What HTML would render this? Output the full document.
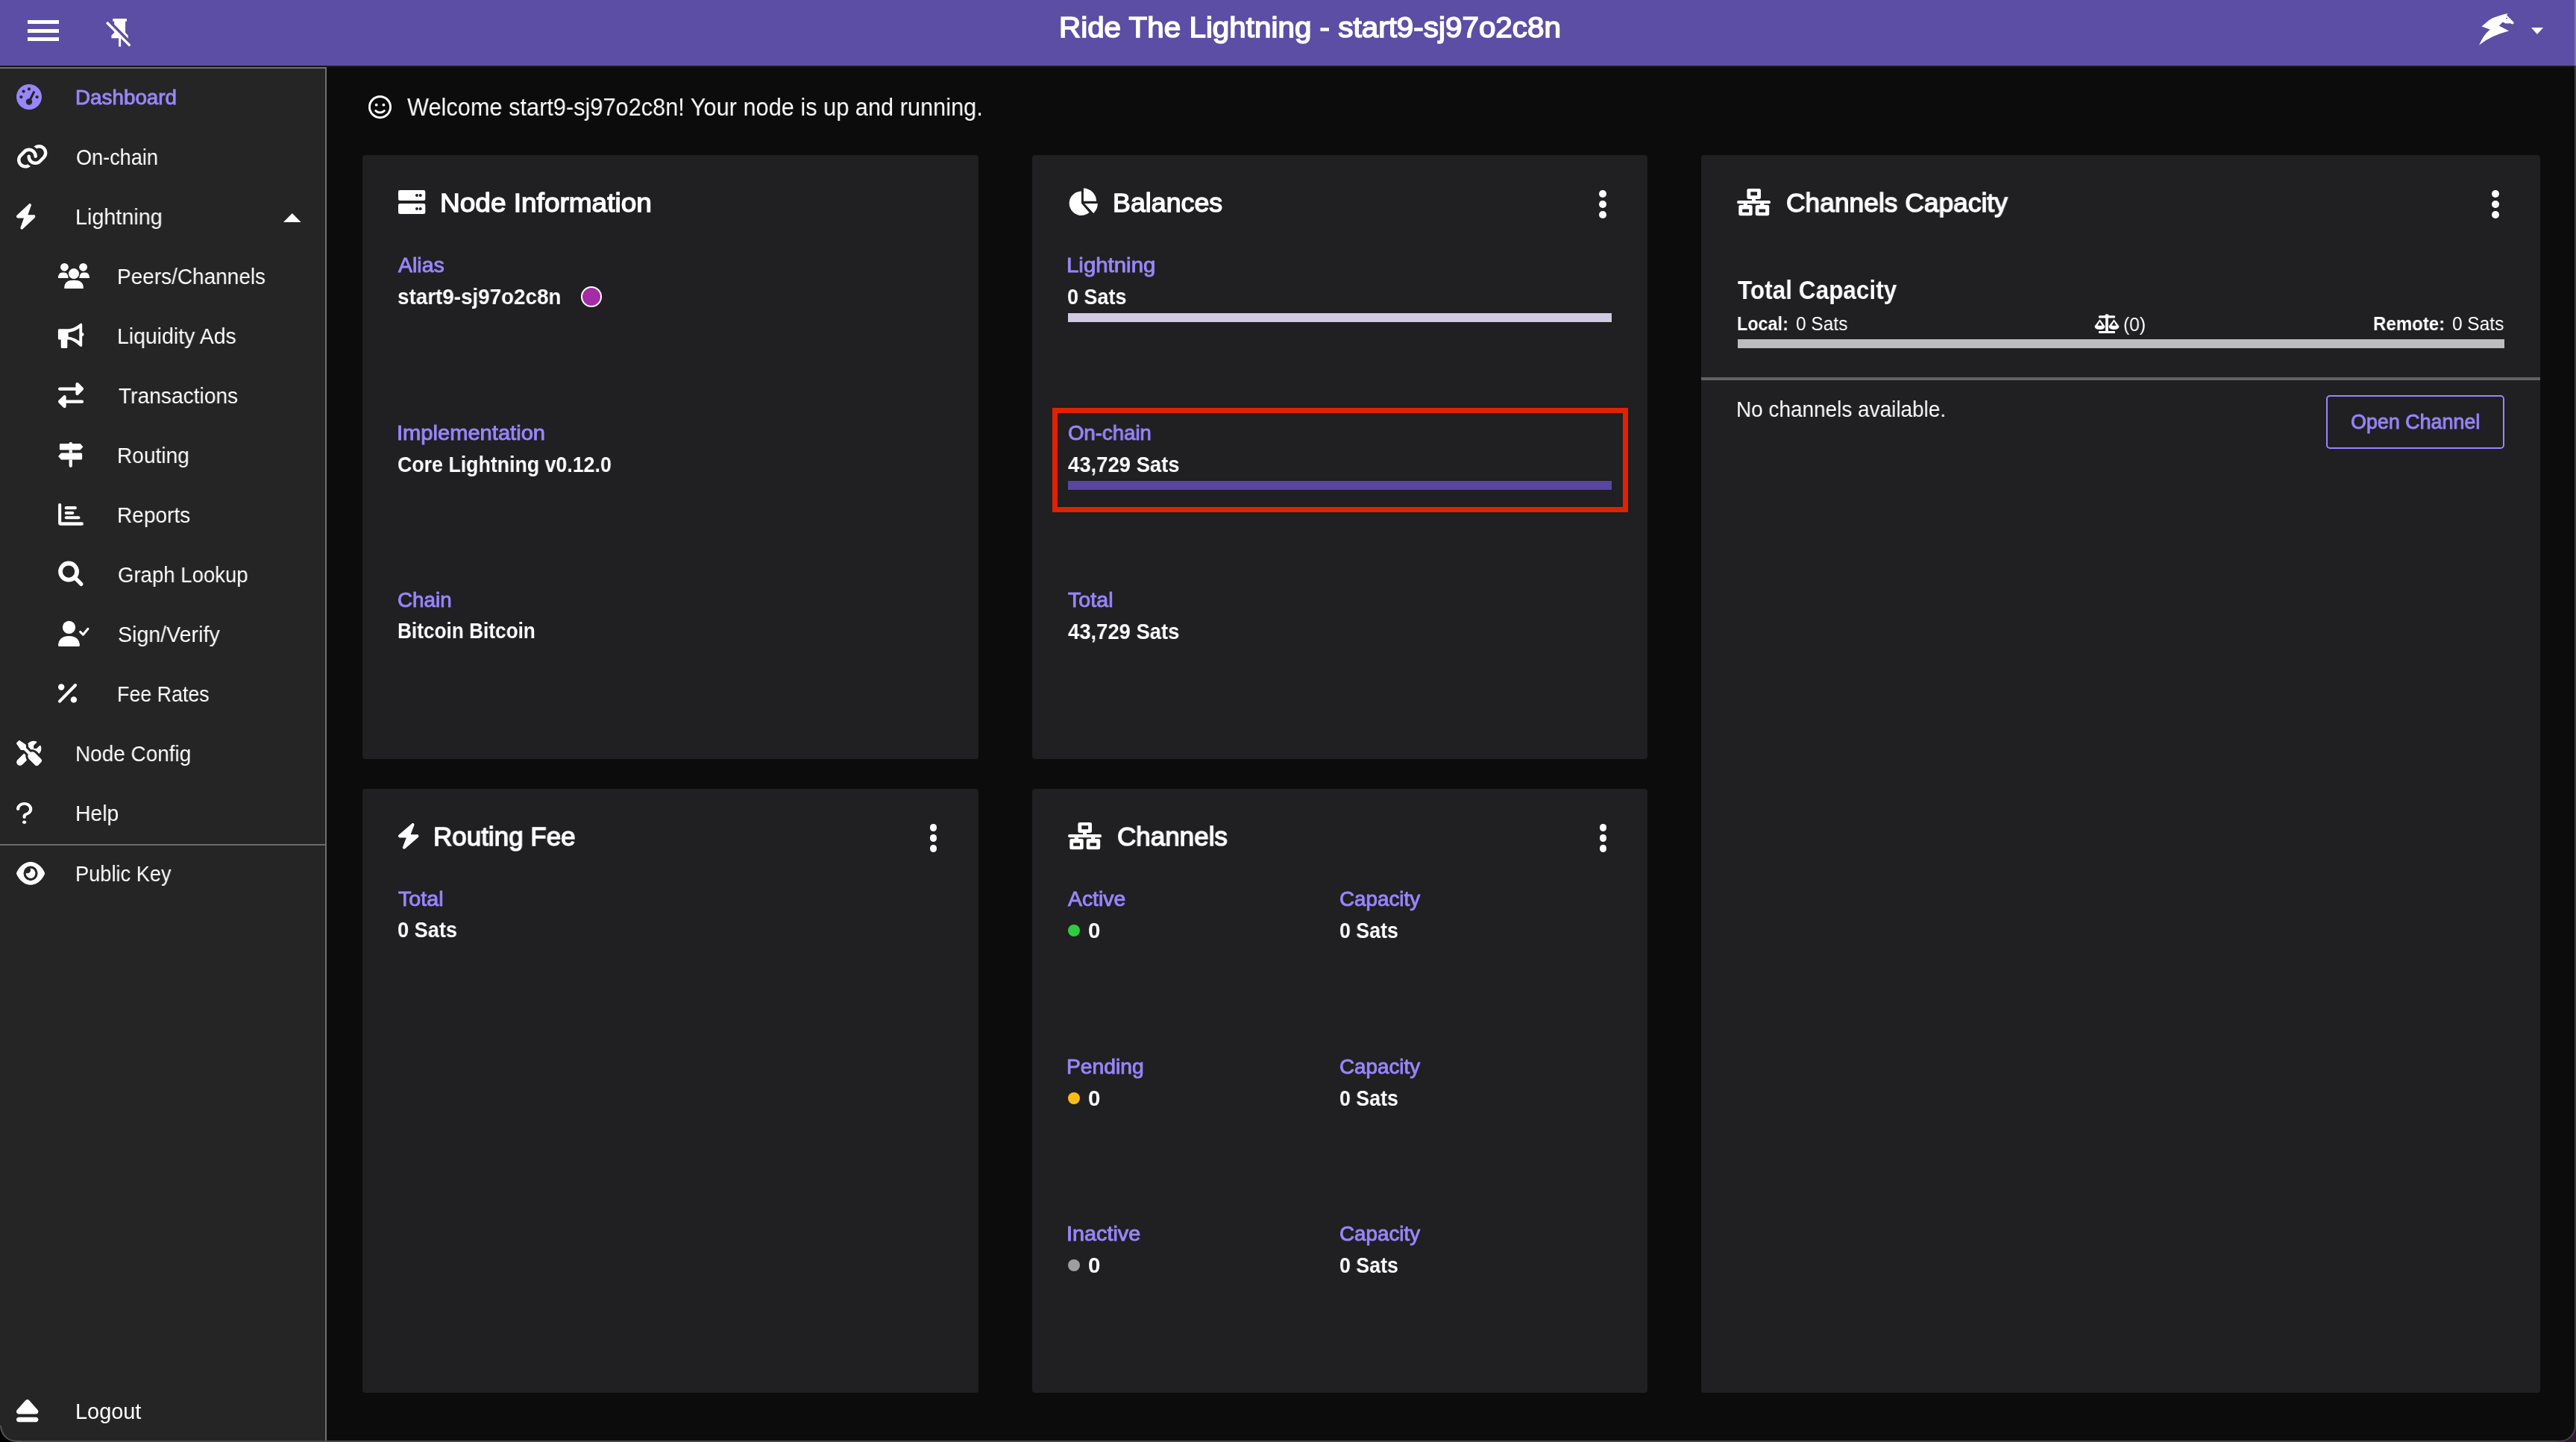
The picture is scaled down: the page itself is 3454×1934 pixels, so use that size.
<!DOCTYPE html>
<html><head><meta charset="utf-8"><title>RTL Dashboard</title>
<style>
*{margin:0;padding:0;box-sizing:border-box}
html,body{width:3454px;height:1934px;overflow:hidden;background:#0c0c0c;font-family:"Liberation Sans",Arial,sans-serif;}
.t{position:absolute;white-space:nowrap;transform-origin:0 0;font-kerning:normal;will-change:transform}
.i{position:absolute;overflow:visible}
.b{position:absolute}
.dot{position:absolute;width:9.8px;height:9.8px;border-radius:50%;background:#fff}
@media (min-width:1700px) and (max-width:1760px){html{zoom:.5}}
</style></head><body>
<div class="b" style="left:0;top:0;width:3454px;height:88px;background:#5c4ea5"></div>
<div class="b" style="left:0;top:88px;width:3454px;height:2px;background:#1d1d1b"></div>
<!-- hamburger -->
<div class="b" style="left:37px;top:27px;width:42px;height:5.3px;background:#fff"></div>
<div class="b" style="left:37px;top:38.5px;width:42px;height:5.3px;background:#fff"></div>
<div class="b" style="left:37px;top:50px;width:42px;height:5.3px;background:#fff"></div>
<!-- sidebar -->
<div class="b" style="left:0;top:88px;width:436px;height:2px;background:#171715"></div>
<div class="b" style="left:0;top:90px;width:438px;height:1844px;background:#252525;border-top:2px solid #6f6f6f;border-right:2px solid #6f6f6f"></div>
<div class="b" style="left:0;top:1131.5px;width:436px;height:2px;background:#6b6b6b"></div>
<!-- chevron up -->
<svg class="i" style="left:380px;top:286px;width:23.6px;height:12px" viewBox="0 0 10 5" preserveAspectRatio="none"><path fill="#fff" d="M0 5 5 0 10 5z"/></svg>
<!-- cards -->
<div class="b" style="left:486px;top:208px;width:826px;height:810px;background:#201f21;border-radius:4px"></div>
<div class="b" style="left:1384px;top:208px;width:825px;height:810px;background:#201f21;border-radius:4px"></div>
<div class="b" style="left:2281px;top:208px;width:1125px;height:1660px;background:#201f21;border-radius:4px"></div>
<div class="b" style="left:486px;top:1058px;width:826px;height:810px;background:#201f21;border-radius:4px"></div>
<div class="b" style="left:1384px;top:1058px;width:825px;height:810px;background:#201f21;border-radius:4px"></div>
<!-- balances bars -->
<div class="b" style="left:1432px;top:420px;width:729px;height:12px;background:#d0cae4"></div>
<div class="b" style="left:1432px;top:645px;width:729px;height:12px;background:#5846a0"></div>
<div class="b" style="left:1411px;top:546.5px;width:772.3px;height:140.3px;border:7.5px solid #e02200"></div>
<!-- capacity -->
<div class="b" style="left:2329.5px;top:455px;width:1028px;height:12px;background:#bdbdbd"></div>
<div class="b" style="left:2281px;top:506px;width:1125px;height:4px;background:#626262"></div>
<div class="b" style="left:3119px;top:530px;width:238.8px;height:71.7px;border:2.4px solid #9886fd;border-radius:5px"></div>
<!-- alias dot -->
<div class="b" style="left:778.5px;top:384px;width:28px;height:28px;border-radius:50%;background:#a52ca6;border:2px solid #fff"></div>
<!-- status dots -->
<div class="b" style="left:1432px;top:1240px;width:16px;height:16px;border-radius:50%;background:#2ecc40"></div>
<div class="b" style="left:1432px;top:1464.9px;width:16px;height:16px;border-radius:50%;background:#fbbc1a"></div>
<div class="b" style="left:1432px;top:1689px;width:16px;height:16px;border-radius:50%;background:#9e9e9e"></div>
<!-- header right: dropdown -->
<svg class="i" style="left:3394px;top:37px;width:16px;height:9px" viewBox="0 0 10 5" preserveAspectRatio="none"><path fill="#fff" d="M0 0 5 5 10 0z"/></svg>
<svg class="i" style="left:22px;top:112.7px;width:34px;height:34.1px;" viewBox="0 0 512 512" preserveAspectRatio="none"><path fill="#9886fd" d="M0 256a256 256 0 1 1 512 0 256 256 0 1 1-512 0M288 96a32 32 0 1 0-64 0 32 32 0 1 0 64 0m-32 320c35.3 0 64-28.7 64-64 0-16.2-6-31.1-16-42.3l69.5-138.9c5.9-11.9 1.1-26.3-10.7-32.2s-26.3-1.1-32.2 10.7l-69.5 138.9c-1.7-.1-3.4-.2-5.1-.2-35.3 0-64 28.7-64 64s28.7 64 64 64m-80-272a32 32 0 1 0-64 0 32 32 0 1 0 64 0M96 288a32 32 0 1 0 0-64 32 32 0 1 0 0 64m352-32a32 32 0 1 0-64 0 32 32 0 1 0 64 0"/></svg><svg class="i" style="left:22.7px;top:194.3px;width:40.4px;height:31.6px;" viewBox="0 32 576 448.2" preserveAspectRatio="none"><path fill="#fff" d="M419.5 96c-16.6 0-32.7 4.5-46.8 12.7-15.8-16-34.2-29.4-54.5-39.5 28.2-24 64.1-37.2 101.3-37.2C505.9 32 576 102 576 188.5c0 41.5-16.5 81.3-45.8 110.6l-71.1 71.1C429.8 399.5 390 416 348.5 416 262.1 416 192 346 192 259.5c0-1.5 0-3 .1-4.5.5-17.7 15.2-31.6 32.9-31.1s31.6 15.2 31.1 32.9v2.6c0 51.1 41.4 92.5 92.5 92.5 24.5 0 48-9.7 65.4-27.1l71.1-71.1c17.3-17.3 27.1-40.9 27.1-65.4 0-51.1-41.4-92.5-92.5-92.5zm-144.3 77.3c-1.9-.8-3.8-1.9-5.5-3.1-12.6-6.5-27-10.2-42.1-10.2-24.5 0-48 9.7-65.4 27.1l-71.1 71.1C73.8 275.5 64 299.1 64 323.6c0 51.1 41.4 92.5 92.5 92.5 16.5 0 32.6-4.4 46.7-12.6 15.8 16 34.2 29.4 54.6 39.5-28.2 23.9-64 37.2-101.3 37.2C70.1 480.2 0 410.2 0 323.7c0-41.5 16.5-81.3 45.8-110.6l71.1-71.1c29.3-29.3 69.1-45.8 110.6-45.8 86.6 0 156.5 70.6 156.5 156.9v3.9c-.4 17.7-15.1 31.6-32.8 31.2s-31.6-15.1-31.2-32.8v-2.3c0-33.7-18-63.3-44.8-79.6z"/></svg><svg class="i" style="left:22.2px;top:272.8px;width:25.3px;height:34.7px;" viewBox="-0.01 -16.02 448.02 544.03" preserveAspectRatio="none"><path fill="#fff" d="M338.8-9.9c11.9 8.6 16.3 24.2 10.9 37.8L271.3 224H416c13.5 0 25.5 8.4 30.1 21.1s.7 26.9-9.6 35.5l-288 240c-11.3 9.4-27.4 9.9-39.3 1.3s-16.3-24.2-10.9-37.8L176.7 288H32c-13.5 0-25.5-8.4-30.1-21.1s-.7-26.9 9.6-35.5l288-240c11.3-9.4 27.4-9.9 39.3-1.3"/></svg><svg class="i" style="left:70px;top:345px;width:60px;height:50px" viewBox="70 345 60 50"><path fill="#fff" d="M77.9 373.1C77.9 367.3 80.6 365.5 84.75 365.5C88.9 365.5 91.6 367.3 91.6 373.1Z"/><path fill="#fff" d="M106.3 373.1C106.3 367.3 109 365.5 113.15 365.5C117.3 365.5 120 367.3 120 373.1Z"/><circle cx="86.4" cy="358.3" r="5.4" fill="#fff"/><circle cx="111.6" cy="358.3" r="5.4" fill="#fff"/><circle cx="99" cy="367.1" r="8.4" fill="#252525"/><circle cx="99" cy="367.1" r="7" fill="#fff"/><path fill="#fff" d="M86.2 386.9C86.2 378.6 90.6 375.8 99 375.8C107.4 375.8 111.9 378.6 111.9 386.9Z"/></svg><svg class="i" style="left:70px;top:425px;width:50px;height:50px" viewBox="70 425 50 50"><path fill="#fff" d="M79.4 441.2H92C97 441 103 438 107.5 434Q108.5 433.2 109.5 433.8Q110.2 434.3 110.2 435.5V446.3A2.3 2.3 0 0 1 110.2 450.9V463Q110.2 464.4 109.3 464.9Q108.4 465.3 107.5 464.6C103 460.6 97.5 455.6 92 455.4H90.3V465.6Q90.3 467.1 88.8 467.1H83.2Q81.7 467.1 81.7 465.6V455.4H79.4Q77.9 455.4 77.9 453.9V442.7Q77.9 441.2 79.4 441.2Z"/><path fill="#252525" d="M91.6 445.9C96.5 445.5 101.5 443.5 106.3 440.2V457.5C101.5 454.2 96.5 452.2 91.6 451.8Z"/></svg><svg class="i" style="left:78.2px;top:512.7px;width:34.1px;height:34.2px;" viewBox="-0.07 -0.06 512.15 512.11" preserveAspectRatio="none"><path fill="#fff" d="m502.6 150.6-96 96c-9.2 9.2-22.9 11.9-34.9 6.9S352 236.9 352 224v-64H32c-17.7 0-32-14.3-32-32s14.3-32 32-32h320V32c0-12.9 7.8-24.6 19.8-29.6s25.7-2.2 34.9 6.9l96 96c12.5 12.5 12.5 32.8 0 45.3zm-397.3 352-96-96c-12.5-12.5-12.5-32.8 0-45.3l96-96c9.2-9.2 22.9-11.9 34.9-6.9S160 275.1 160 288v64h320c17.7 0 32 14.3 32 32s-14.3 32-32 32H160v64c0 12.9-7.8 24.6-19.8 29.6s-25.7 2.2-34.9-6.9z"/></svg><svg class="i" style="left:70px;top:585px;width:50px;height:50px" viewBox="70 585 50 50"><g fill="#fff"><path d="M81.4 594.9H107.6L111.4 599.2L107.6 603.5H81.4Q79.9 603.5 79.9 602V596.4Q79.9 594.9 81.4 594.9Z"/><path d="M82 607.5H108.6Q110.1 607.5 110.1 609V615Q110.1 616.5 108.6 616.5H82L78.1 612Z"/><path d="M92.6 594.95V594.2Q92.6 593 94.75 593Q96.9 593 96.9 594.2V594.95Z"/><rect x="92.6" y="603.4" width="4.3" height="4.2"/><path d="M92.6 616.4H96.9V624.8Q96.9 626.9 94.75 626.9Q92.6 626.9 92.6 624.8Z"/></g></svg><svg class="i" style="left:70px;top:665px;width:50px;height:50px" viewBox="70 665 50 50"><g fill="#fff"><path d="M78.1 677.1Q78.1 675.1 80.15 675.1Q82.2 675.1 82.2 677.1V700.3H109.9Q111.9 700.3 111.9 702.55Q111.9 704.8 109.9 704.8H81.6Q78.1 704.8 78.1 701.3Z"/><rect x="86.7" y="679.1" width="16.2" height="4.1" rx="2.05"/><rect x="86.7" y="685.9" width="12.6" height="4.1" rx="2.05"/><rect x="86.7" y="692.2" width="20.7" height="4.1" rx="2.05"/></g></svg><svg class="i" style="left:70px;top:745px;width:50px;height:50px" viewBox="70 745 50 50"><circle cx="92.05" cy="766.55" r="11.05" fill="none" stroke="#fff" stroke-width="5.8"/><path d="M101.2 775.7 108.9 783.4" stroke="#fff" stroke-width="5.2" stroke-linecap="round"/></svg><svg class="i" style="left:70px;top:825px;width:55px;height:50px" viewBox="70 825 55 50"><circle cx="92.5" cy="841.4" r="8.6" fill="#fff"/><path fill="#fff" d="M78.1 865.6C78.1 857.5 84 853.1 92.5 853.1C101 853.1 106.9 857.5 106.9 865.6Q106.9 867.1 105.4 867.1H79.6Q78.1 867.1 78.1 865.6Z"/><path d="M107.6 847.4 111.4 851.2 118 843.3" fill="none" stroke="#fff" stroke-width="3" stroke-linecap="round" stroke-linejoin="round"/></svg><svg class="i" style="left:70px;top:905px;width:45px;height:45px" viewBox="70 905 45 45"><circle cx="82.2" cy="921.5" r="4.2" fill="#fff"/><circle cx="98.9" cy="938.4" r="4.2" fill="#fff"/><path d="M80 940.6 101 919" stroke="#fff" stroke-width="4.2" stroke-linecap="round"/></svg><svg class="i" style="left:22.2px;top:993.1px;width:34.1px;height:34.1px;" viewBox="20.72 -11.38 535.5 535.5" preserveAspectRatio="none"><path fill="#fff" d="M70.8-6.7c5.4-5.4 13.8-6.2 20.2-2l118.9 79.2c8.9 5.9 14.2 15.9 14.2 26.6v49.6l90.8 90.8c33.3-15 73.9-8.9 101.2 18.5l126.1 126.1c18.7 18.7 18.7 49.1 0 67.9l-60.1 60.1c-18.7 18.7-49.1 18.7-67.9 0L288.1 384c-27.4-27.4-33.5-67.9-18.5-101.2L178.8 192h-49.6c-10.7 0-20.7-5.3-26.6-14.2L23.4 58.9c-4.2-6.3-3.4-14.8 2-20.2zm145 303.5c-6.3 36.9 2.3 75.9 26.2 107.2l-94.9 95c-28.1 28.1-73.7 28.1-101.8 0s-28.1-73.7 0-101.8l135.4-135.5 35.2 35.1zM384.1 0c20.1 0 39.4 3.7 57.1 10.5 10 3.8 11.8 16.5 4.3 24.1l-56.7 56.7c-3 3-4.7 7.1-4.7 11.3V144c0 8.8 7.2 16 16 16h41.4c4.2 0 8.3-1.7 11.3-4.7l56.7-56.7c7.6-7.5 20.3-5.7 24.1 4.3 6.8 17.7 10.5 37 10.5 57.1 0 43.2-17.2 82.3-45 111.1L450 222c-33.1-33-78.5-45.7-121.1-38.4l-56.8-56.8V97.1l-.2-5c-.8-12.4-4.4-24.3-10.5-34.9C290.8 22.2 334.8 0 384.1-.1z"/></svg><svg class="i" style="left:22.2px;top:1075.6px;width:21.3px;height:29px;" viewBox="0 0 320 512" preserveAspectRatio="none"><path fill="#fff" d="M64 160c0-53 43-96 96-96s96 43 96 96c0 42.7-27.9 78.9-66.5 91.4-28.4 9.2-61.5 35.3-61.5 76.6v24c0 17.7 14.3 32 32 32s32-14.3 32-32v-24c0-1.7.6-4.1 3.5-7.3 3-3.3 7.9-6.5 13.7-8.4C273.5 291.6 320 231.3 320 160 320 71.6 248.4 0 160 0S0 71.6 0 160c0 17.7 14.3 32 32 32s32-14.3 32-32m96 352c22.1 0 40-17.9 40-40s-17.9-40-40-40-40 17.9-40 40 17.9 40 40 40"/></svg><svg class="i" style="left:22.2px;top:1156.3px;width:38.1px;height:30.7px;" viewBox="-0.08 32 576.15 448" preserveAspectRatio="none"><path fill="#fff" d="M288 32c-80.8 0-145.5 36.8-192.6 80.6-46.8 43.5-78.1 95.4-93 131.1-3.3 7.9-3.3 16.7 0 24.6 14.9 35.7 46.2 87.7 93 131.1C142.5 443.1 207.2 480 288 480s145.5-36.8 192.6-80.6c46.8-43.5 78.1-95.4 93-131.1 3.3-7.9 3.3-16.7 0-24.6-14.9-35.7-46.2-87.7-93-131.1C433.5 68.9 368.8 32 288 32M144 256a144 144 0 1 1 288 0 144 144 0 1 1-288 0m144-64c0 35.3-28.7 64-64 64-11.5 0-22.3-3-31.7-8.4-1 10.9-.1 22.1 2.9 33.2 13.7 51.2 66.4 81.6 117.6 67.9s81.6-66.4 67.9-117.6c-12.2-45.7-55.5-74.8-101.1-70.8 5.3 9.3 8.4 20.1 8.4 31.7"/></svg><svg class="i" style="left:21.8px;top:1876.8px;width:29.4px;height:30.2px;" viewBox="0 32 448.03 448" preserveAspectRatio="none"><path fill="#fff" d="M224 32c13.5 0 26.3 5.6 35.4 15.6l176 192c12.9 14 16.2 34.3 8.6 51.8S419 320 400 320H48c-19 0-36.3-11.2-43.9-28.7s-4.3-37.7 8.6-51.8l176-192c9-9.9 21.8-15.5 35.3-15.5M0 432c0-26.5 21.5-48 48-48h352c26.5 0 48 21.5 48 48s-21.5 48-48 48H48c-26.5 0-48-21.5-48-48"/></svg><svg class="i" style="left:141.9px;top:24.6px;width:33.5px;height:37.6px;" viewBox="2 2 18 20" preserveAspectRatio="none"><path fill="#fff" d="M2 5.27 3.28 4 20 20.72 18.73 22l-5.93-5.93V22h-1.6v-6H6v-2l2-2v-.73zM16 12l2 2v2h-.18L8 6.18V4H7V2h10v2h-1z"/></svg><svg class="i" style="left:494px;top:127.9px;width:31px;height:31.2px;" viewBox="0 0 512 512" preserveAspectRatio="none"><path fill="#fff" d="M464 256a208 208 0 1 0-416 0 208 208 0 1 0 416 0M0 256a256 256 0 1 1 512 0 256 256 0 1 1-512 0m177.3 63.4c15 15.6 41.1 32.6 78.7 32.6s63.7-17 78.7-32.6c9.2-9.6 24.4-9.9 33.9-.7s9.9 24.4.7 33.9c-22.1 23-60 47.4-113.3 47.4s-91.2-24.4-113.3-47.4c-9.2-9.6-8.9-24.8.7-33.9s24.8-8.9 33.9.7M144 208a32 32 0 1 1 64 0 32 32 0 1 1-64 0m192-32a32 32 0 1 1 0 64 32 32 0 1 1 0-64"/></svg><svg class="i" style="left:533.8px;top:254.9px;width:36.3px;height:32.1px" viewBox="0 0 36.3 32.1" preserveAspectRatio="none"><path fill="#fff" d="M2.50 0.00H33.80A2.5 2.5 0 0 1 36.30 2.50V11.50A2.5 2.5 0 0 1 33.80 14.00H2.50A2.5 2.5 0 0 1 0.00 11.50V2.50A2.5 2.5 0 0 1 2.50 0.00ZM2.50 18.00H33.80A2.5 2.5 0 0 1 36.30 20.50V29.60A2.5 2.5 0 0 1 33.80 32.10H2.50A2.5 2.5 0 0 1 0.00 29.60V20.50A2.5 2.5 0 0 1 2.50 18.00Z"/><path fill="#201f21" d="M23.00 7.10a2.0 2.0 0 1 0 4.00 0a2.0 2.0 0 1 0 -4.00 0ZM27.70 7.10a2.0 2.0 0 1 0 4.00 0a2.0 2.0 0 1 0 -4.00 0ZM23.00 24.90a2.0 2.0 0 1 0 4.00 0a2.0 2.0 0 1 0 -4.00 0ZM27.70 24.90a2.0 2.0 0 1 0 4.00 0a2.0 2.0 0 1 0 -4.00 0Z"/></svg><svg class="i" style="left:1425px;top:245px;width:55px;height:50px" viewBox="1425 245 55 50" preserveAspectRatio="none"><path fill="#fff" d="M1450.00 272.70L1460.56 285.11A16.3 16.3 0 1 1 1450.00 256.40ZM1452.90 269.80L1452.90 252.60A17.2 17.2 0 0 1 1470.10 269.80ZM1454.10 273.10L1471.80 273.10A17.7 17.7 0 0 1 1466.17 286.04Z"/></svg><svg class="i" style="left:2328.8px;top:252.8px;width:45.1px;height:36.2px" viewBox="0 0 45.1 36.2" preserveAspectRatio="none"><path fill="#fff" d="M15.90 0.00H29.50A2.5 2.5 0 0 1 32.00 2.50V11.40A2.5 2.5 0 0 1 29.50 13.90H15.90A2.5 2.5 0 0 1 13.40 11.40V2.50A2.5 2.5 0 0 1 15.90 0.00ZM20.00 13.50H25.00V16.50H20.00ZM2.10 16.10H43.00A2.1 2.1 0 0 1 45.10 18.20V18.20A2.1 2.1 0 0 1 43.00 20.30H2.10A2.1 2.1 0 0 1 0.00 18.20V18.20A2.1 2.1 0 0 1 2.10 16.10ZM8.70 20.00H13.90V22.20H8.70ZM31.10 20.00H36.30V22.20H31.10ZM4.80 22.00H18.20A2.5 2.5 0 0 1 20.70 24.50V33.70A2.5 2.5 0 0 1 18.20 36.20H4.80A2.5 2.5 0 0 1 2.30 33.70V24.50A2.5 2.5 0 0 1 4.80 22.00ZM27.20 22.00H40.70A2.5 2.5 0 0 1 43.20 24.50V33.70A2.5 2.5 0 0 1 40.70 36.20H27.20A2.5 2.5 0 0 1 24.70 33.70V24.50A2.5 2.5 0 0 1 27.20 22.00Z"/><path fill="#201f21" d="M18.30 4.30H27.10V9.20H18.30ZM7.20 27.60H16.00V31.70H7.20ZM29.50 27.60H38.20V31.70H29.50Z"/></svg><svg class="i" style="left:534px;top:1103.5px;width:27.4px;height:34.7px;" viewBox="-0.01 -16.02 448.02 544.03" preserveAspectRatio="none"><path fill="#fff" d="M338.8-9.9c11.9 8.6 16.3 24.2 10.9 37.8L271.3 224H416c13.5 0 25.5 8.4 30.1 21.1s.7 26.9-9.6 35.5l-288 240c-11.3 9.4-27.4 9.9-39.3 1.3s-16.3-24.2-10.9-37.8L176.7 288H32c-13.5 0-25.5-8.4-30.1-21.1s-.7-26.9 9.6-35.5l288-240c11.3-9.4 27.4-9.9 39.3-1.3"/></svg><svg class="i" style="left:1431.8px;top:1103px;width:45.1px;height:36.2px" viewBox="0 0 45.1 36.2" preserveAspectRatio="none"><path fill="#fff" d="M15.90 0.00H29.50A2.5 2.5 0 0 1 32.00 2.50V11.40A2.5 2.5 0 0 1 29.50 13.90H15.90A2.5 2.5 0 0 1 13.40 11.40V2.50A2.5 2.5 0 0 1 15.90 0.00ZM20.00 13.50H25.00V16.50H20.00ZM2.10 16.10H43.00A2.1 2.1 0 0 1 45.10 18.20V18.20A2.1 2.1 0 0 1 43.00 20.30H2.10A2.1 2.1 0 0 1 0.00 18.20V18.20A2.1 2.1 0 0 1 2.10 16.10ZM8.70 20.00H13.90V22.20H8.70ZM31.10 20.00H36.30V22.20H31.10ZM4.80 22.00H18.20A2.5 2.5 0 0 1 20.70 24.50V33.70A2.5 2.5 0 0 1 18.20 36.20H4.80A2.5 2.5 0 0 1 2.30 33.70V24.50A2.5 2.5 0 0 1 4.80 22.00ZM27.20 22.00H40.70A2.5 2.5 0 0 1 43.20 24.50V33.70A2.5 2.5 0 0 1 40.70 36.20H27.20A2.5 2.5 0 0 1 24.70 33.70V24.50A2.5 2.5 0 0 1 27.20 22.00Z"/><path fill="#201f21" d="M18.30 4.30H27.10V9.20H18.30ZM7.20 27.60H16.00V31.70H7.20ZM29.50 27.60H38.20V31.70H29.50Z"/></svg><svg class="i" style="left:2800px;top:415px;width:50px;height:40px" viewBox="2800 415 50 40"><rect x="2813.9" y="423.2" width="22.1" height="3.3" rx="1.2" fill="#fff"/><circle cx="2825" cy="424" r="2.7" fill="#fff"/><rect x="2823.1" y="424" width="3.7" height="21" fill="#fff"/><rect x="2813.9" y="444.1" width="22.1" height="2.9" rx="0.8" fill="#fff"/><path fill="#fff" d="M2815.5 428.2L2808.6 437.6Q2808.7 442 2815.5 442Q2822.3 442 2822.4 437.6Z"/><path fill="#201f21" d="M2815.5 431.6L2812.4 436.7H2818.6Z"/><path fill="#fff" d="M2834.5 428.2L2827.6 437.6Q2827.7 442 2834.5 442Q2841.3 442 2841.4 437.6Z"/><path fill="#201f21" d="M2834.5 431.6L2831.4 436.7H2837.6Z"/></svg>
<div class="dot" style="left:2144.4px;top:255.1px"></div><div class="dot" style="left:2144.4px;top:269.1px"></div><div class="dot" style="left:2144.4px;top:283.1px"></div><div class="dot" style="left:3340.8px;top:255.3px"></div><div class="dot" style="left:3340.8px;top:269.3px"></div><div class="dot" style="left:3340.8px;top:283.3px"></div><div class="dot" style="left:1246.5px;top:1105.1px"></div><div class="dot" style="left:1246.5px;top:1119.1px"></div><div class="dot" style="left:1246.5px;top:1133.1px"></div><div class="dot" style="left:2144.5px;top:1105.1px"></div><div class="dot" style="left:2144.5px;top:1119.1px"></div><div class="dot" style="left:2144.5px;top:1133.1px"></div>
<div class="t" style="left:1419.65px;top:17.49px;font-size:39.7px;line-height:39.7px;font-weight:400;color:#ffffff;transform:scaleX(1.0179);-webkit-text-stroke:1.6px #ffffff;">Ride The Lightning - start9-sj97o2c8n</div><div class="t" style="left:101.43px;top:117.29px;font-size:27.6px;line-height:27.6px;font-weight:400;color:#9886fd;transform:scaleX(1.0080);-webkit-text-stroke:0.9px #9886fd;">Dashboard</div><div class="t" style="left:102.06px;top:196.64px;font-size:28.9px;line-height:28.9px;font-weight:400;color:#ffffff;transform:scaleX(0.9370);">On-chain</div><div class="t" style="left:101.01px;top:276.64px;font-size:28.9px;line-height:28.9px;font-weight:400;color:#ffffff;transform:scaleX(0.9947);">Lightning</div><div class="t" style="left:156.66px;top:356.64px;font-size:28.9px;line-height:28.9px;font-weight:400;color:#ffffff;transform:scaleX(0.9684);">Peers/Channels</div><div class="t" style="left:156.63px;top:436.64px;font-size:28.9px;line-height:28.9px;font-weight:400;color:#ffffff;transform:scaleX(0.9847);">Liquidity Ads</div><div class="t" style="left:158.6px;top:516.64px;font-size:28.9px;line-height:28.9px;font-weight:400;color:#ffffff;transform:scaleX(0.9752);">Transactions</div><div class="t" style="left:156.66px;top:596.64px;font-size:28.9px;line-height:28.9px;font-weight:400;color:#ffffff;transform:scaleX(0.9719);">Routing</div><div class="t" style="left:156.66px;top:676.64px;font-size:28.9px;line-height:28.9px;font-weight:400;color:#ffffff;transform:scaleX(0.9705);">Reports</div><div class="t" style="left:157.65px;top:756.64px;font-size:28.9px;line-height:28.9px;font-weight:400;color:#ffffff;transform:scaleX(0.9534);">Graph Lookup</div><div class="t" style="left:157.61px;top:836.64px;font-size:28.9px;line-height:28.9px;font-weight:400;color:#ffffff;transform:scaleX(0.9894);">Sign/Verify</div><div class="t" style="left:156.74px;top:916.64px;font-size:28.9px;line-height:28.9px;font-weight:400;color:#ffffff;transform:scaleX(0.9279);">Fee Rates</div><div class="t" style="left:101.07px;top:996.64px;font-size:28.9px;line-height:28.9px;font-weight:400;color:#ffffff;transform:scaleX(0.9668);">Node Config</div><div class="t" style="left:101.04px;top:1076.64px;font-size:28.9px;line-height:28.9px;font-weight:400;color:#ffffff;transform:scaleX(0.9814);">Help</div><div class="t" style="left:101.12px;top:1157.84px;font-size:28.9px;line-height:28.9px;font-weight:400;color:#fff;transform:scaleX(0.9419);">Public Key</div><div class="t" style="left:101.01px;top:1878.74px;font-size:28.9px;line-height:28.9px;font-weight:400;color:#fff;transform:scaleX(0.9949);">Logout</div><div class="t" style="left:546px;top:128.4px;font-size:32.6px;line-height:32.6px;font-weight:400;color:#fff;transform:scaleX(0.9435);">Welcome start9-sj97o2c8n! Your node is up and running.</div><div class="t" style="left:589.83px;top:254.6px;font-size:35.8px;line-height:35.8px;font-weight:400;color:#fff;transform:scaleX(1.0337);-webkit-text-stroke:1.4px #fff;">Node Information</div><div class="t" style="left:1491.91px;top:254.6px;font-size:35.8px;line-height:35.8px;font-weight:400;color:#fff;transform:scaleX(0.9968);-webkit-text-stroke:1.4px #fff;">Balances</div><div class="t" style="left:2395.11px;top:254.8px;font-size:35.8px;line-height:35.8px;font-weight:400;color:#fff;transform:scaleX(0.9881);-webkit-text-stroke:1.4px #fff;">Channels Capacity</div><div class="t" style="left:580.94px;top:1104.6px;font-size:35.8px;line-height:35.8px;font-weight:400;color:#fff;transform:scaleX(0.9776);-webkit-text-stroke:1.4px #fff;">Routing Fee</div><div class="t" style="left:1497.52px;top:1104.6px;font-size:35.8px;line-height:35.8px;font-weight:400;color:#fff;transform:scaleX(0.9783);-webkit-text-stroke:1.4px #fff;">Channels</div><div class="t" style="left:534.45px;top:341.82px;font-size:27.8px;line-height:27.8px;font-weight:400;color:#9886fd;transform:scaleX(1.0244);-webkit-text-stroke:0.9px #9886fd;">Alias</div><div class="t" style="left:533.06px;top:382.53px;font-size:29.5px;line-height:29.5px;font-weight:700;color:#ffffff;transform:scaleX(0.9423);">start9-sj97o2c8n</div><div class="t" style="left:532.36px;top:567.22px;font-size:27.8px;line-height:27.8px;font-weight:400;color:#9886fd;transform:scaleX(1.0472);-webkit-text-stroke:0.9px #9886fd;">Implementation</div><div class="t" style="left:533.09px;top:607.93px;font-size:29.5px;line-height:29.5px;font-weight:700;color:#ffffff;transform:scaleX(0.9065);">Core Lightning v0.12.0</div><div class="t" style="left:533.46px;top:791.42px;font-size:27.8px;line-height:27.8px;font-weight:400;color:#9886fd;transform:scaleX(0.9933);-webkit-text-stroke:0.9px #9886fd;">Chain</div><div class="t" style="left:533.11px;top:831.43px;font-size:29.5px;line-height:29.5px;font-weight:700;color:#ffffff;transform:scaleX(0.8879);">Bitcoin Bitcoin</div><div class="t" style="left:1430.13px;top:342.02px;font-size:27.8px;line-height:27.8px;font-weight:400;color:#9886fd;transform:scaleX(1.0579);-webkit-text-stroke:0.9px #9886fd;">Lightning</div><div class="t" style="left:1431.19px;top:383.03px;font-size:29.5px;line-height:29.5px;font-weight:700;color:#ffffff;transform:scaleX(0.9134);">0 Sats</div><div class="t" style="left:1432.16px;top:567.12px;font-size:27.8px;line-height:27.8px;font-weight:400;color:#9886fd;transform:scaleX(0.9916);-webkit-text-stroke:0.9px #9886fd;">On-chain</div><div class="t" style="left:1432px;top:607.83px;font-size:29.5px;line-height:29.5px;font-weight:700;color:#ffffff;transform:scaleX(0.9306);">43,729 Sats</div><div class="t" style="left:1432.25px;top:791.02px;font-size:27.8px;line-height:27.8px;font-weight:400;color:#9886fd;transform:scaleX(1.0306);-webkit-text-stroke:0.9px #9886fd;">Total</div><div class="t" style="left:1432px;top:831.93px;font-size:29.5px;line-height:29.5px;font-weight:700;color:#ffffff;transform:scaleX(0.9293);">43,729 Sats</div><div class="t" style="left:534.45px;top:1191.82px;font-size:27.8px;line-height:27.8px;font-weight:400;color:#9886fd;transform:scaleX(1.0341);-webkit-text-stroke:0.9px #9886fd;">Total</div><div class="t" style="left:533.08px;top:1232.43px;font-size:29.5px;line-height:29.5px;font-weight:700;color:#ffffff;transform:scaleX(0.9204);">0 Sats</div><div class="t" style="left:1432.45px;top:1191.82px;font-size:27.8px;line-height:27.8px;font-weight:400;color:#9886fd;transform:scaleX(1.0208);-webkit-text-stroke:0.9px #9886fd;">Active</div><div class="t" style="left:1459.02px;top:1232.53px;font-size:29.5px;line-height:29.5px;font-weight:700;color:#ffffff;transform:scaleX(0.9800);">0</div><div class="t" style="left:1796.45px;top:1191.82px;font-size:27.8px;line-height:27.8px;font-weight:400;color:#9886fd;-webkit-text-stroke:0.9px #9886fd;">Capacity</div><div class="t" style="left:1796.09px;top:1232.53px;font-size:29.5px;line-height:29.5px;font-weight:700;color:#ffffff;transform:scaleX(0.9075);">0 Sats</div><div class="t" style="left:1430.42px;top:1416.92px;font-size:27.8px;line-height:27.8px;font-weight:400;color:#9886fd;transform:scaleX(1.0167);-webkit-text-stroke:0.9px #9886fd;">Pending</div><div class="t" style="left:1459.02px;top:1457.63px;font-size:29.5px;line-height:29.5px;font-weight:700;color:#ffffff;transform:scaleX(0.9800);">0</div><div class="t" style="left:1796.45px;top:1416.92px;font-size:27.8px;line-height:27.8px;font-weight:400;color:#9886fd;-webkit-text-stroke:0.9px #9886fd;">Capacity</div><div class="t" style="left:1796.09px;top:1457.63px;font-size:29.5px;line-height:29.5px;font-weight:700;color:#ffffff;transform:scaleX(0.9075);">0 Sats</div><div class="t" style="left:1430.38px;top:1640.92px;font-size:27.8px;line-height:27.8px;font-weight:400;color:#9886fd;transform:scaleX(1.0360);-webkit-text-stroke:0.9px #9886fd;">Inactive</div><div class="t" style="left:1459.02px;top:1681.63px;font-size:29.5px;line-height:29.5px;font-weight:700;color:#ffffff;transform:scaleX(0.9800);">0</div><div class="t" style="left:1796.45px;top:1640.92px;font-size:27.8px;line-height:27.8px;font-weight:400;color:#9886fd;-webkit-text-stroke:0.9px #9886fd;">Capacity</div><div class="t" style="left:1796.09px;top:1681.63px;font-size:29.5px;line-height:29.5px;font-weight:700;color:#ffffff;transform:scaleX(0.9075);">0 Sats</div><div class="t" style="left:2329.9px;top:371.85px;font-size:35.5px;line-height:35.5px;font-weight:700;color:#fff;transform:scaleX(0.8886);">Total Capacity</div><div class="t" style="left:2329.02px;top:421.37px;font-size:26.5px;line-height:26.5px;font-weight:700;color:#fff;transform:scaleX(0.8828);">Local:</div><div class="t" style="left:2408.08px;top:421.37px;font-size:26.5px;line-height:26.5px;font-weight:400;color:#fff;transform:scaleX(0.9232);">0 Sats</div><div class="t" style="left:2847.07px;top:421.57px;font-size:26.5px;line-height:26.5px;font-weight:400;color:#fff;transform:scaleX(0.9292);">(0)</div><div class="t" style="left:3181.59px;top:421.37px;font-size:26.5px;line-height:26.5px;font-weight:700;color:#fff;transform:scaleX(0.9061);">Remote:</div><div class="t" style="left:3287.88px;top:421.37px;font-size:26.5px;line-height:26.5px;font-weight:400;color:#fff;transform:scaleX(0.9218);">0 Sats</div><div class="t" style="left:2327.56px;top:535.22px;font-size:28.8px;line-height:28.8px;font-weight:400;color:#fff;transform:scaleX(0.9704);">No channels available.</div><div class="t" style="left:3151.5px;top:550.79px;font-size:28.3px;line-height:28.3px;font-weight:400;color:#9886fd;transform:scaleX(0.9495);-webkit-text-stroke:0.9px #9886fd;">Open Channel</div>
<!-- logo -->
<svg class="i" style="left:3318px;top:14px;width:60px;height:52px" viewBox="0 0 60 52"><path fill="#fff" d="M44.7 4.1 43 6.2 52.4 15.8Q53.2 17.2 52 18.1Q51.2 18.6 50.3 18.3L47.8 17.3 41.6 17.5 37.8 15.4 32.8 20.5 46.1 27.6Q21.9 33.7 6.1 46.5Q11.5 33.2 20.7 25.4L9.5 21.5 19.1 13.3Q24.5 9.3 32 7.5Q38 5.5 44.7 4.1Z"/><ellipse cx="43.1" cy="10.5" rx="1.1" ry="0.65" fill="#5c4ea5"/></svg>
<!-- window frame -->
<div class="b" style="left:3452px;top:0;width:2px;height:88px;background:#7f74bd"></div>
<div class="b" style="left:3452px;top:88px;width:2px;height:1846px;background:#3e3e3e"></div>
<div class="b" style="left:0;top:1932px;width:3454px;height:2px;background:#4a4a4a"></div>
<svg class="i" style="left:0;top:1906px;width:28px;height:28px" viewBox="0 0 28 28"><path fill="#000" d="M1 6A21 21 0 0 0 22 27V28H0V6Z"/><path fill="none" stroke="#555" stroke-width="2" d="M1 6A21 21 0 0 0 22 27H28"/></svg>
<svg class="i" style="left:3426px;top:1906px;width:28px;height:28px" viewBox="0 0 28 28"><path fill="#2c1a2f" d="M27 6A21 21 0 0 1 6 27V28H28V6Z"/><path fill="none" stroke="#444" stroke-width="2" d="M27 0V6A21 21 0 0 1 6 27H0"/></svg>
</body></html>
